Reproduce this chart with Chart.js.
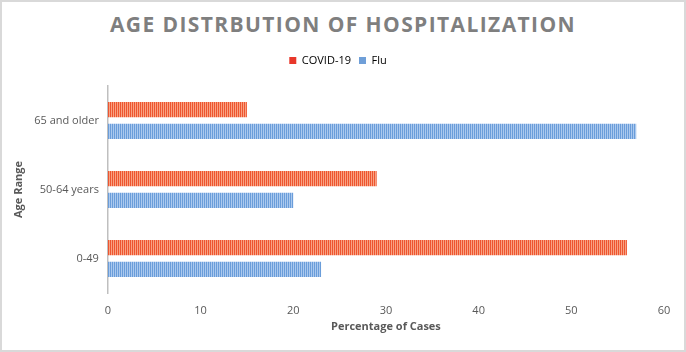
<!DOCTYPE html>
<html>
<head>
<meta charset="utf-8">
<script src="https://cdn.jsdelivr.net/npm/chart.js@4.4.0/dist/chart.umd.min.js"></script>
<style>
  html, body { margin: 0; padding: 0; background: #fff; }
  #wrap { position: relative; width: 686px; height: 352px; box-sizing: border-box; border: 2px solid #d9d9d9; overflow: hidden; }
  #title {
    position: absolute; left: 0; right: 0; top: 8px; text-align: center;
    font-family: "Open Sans", sans-serif; font-weight: 700; font-size: 21px;
    letter-spacing: 1.4px; color: #7f7f7f;
  }
  canvas { position: absolute; left: 0; top: 0; }
</style>
</head>
<body>
<div id="wrap">
  <div id="title">AGE DISTRBUTION OF HOSPITALIZATION</div>
  <canvas id="chart" width="682" height="348"></canvas>
</div>
<script>
// --- Datos ---
const categories = ['65 and older', '50-64 years', '0-49'];
const covidValues = [15, 29, 56];
const fluValues = [57, 20, 23];
const xTicks = [0, 10, 20, 30, 40, 50, 60];

// rayas verticales como en el original
function stripes(dark, light) {
  const c = document.createElement('canvas');
  c.width = 2; c.height = 1;
  const g = c.getContext('2d');
  g.fillStyle = dark; g.fillRect(0, 0, 1, 1);
  g.fillStyle = light; g.fillRect(1, 0, 1, 1);
  return g.createPattern(c, 'repeat');
}

// espacio extra bajo la leyenda
const legendGap = {
  id: 'legendGap',
  beforeInit(chart) {
    const fit = chart.legend.fit;
    chart.legend.fit = function () {
      fit.bind(chart.legend)();
      this.height += 10;
    };
  }
};

const ctx = document.getElementById('chart').getContext('2d');
const font = { family: '"Open Sans", sans-serif', size: 11 };

new Chart(ctx, {
  type: 'bar',
  data: {
    labels: categories,
    datasets: [
      {
        label: 'COVID-19',
        data: covidValues,
        backgroundColor: stripes('#ee5530', '#f8a282'),
        categoryPercentage: 0.63,
        barPercentage: 0.7
      },
      {
        label: 'Flu',
        data: fluValues,
        backgroundColor: stripes('#6a9dda', '#abc9ee'),
        categoryPercentage: 0.63,
        barPercentage: 0.7
      }
    ]
  },
  plugins: [legendGap],
  options: {
    indexAxis: 'y',
    responsive: false,
    animation: false,
    layout: { padding: { top: 45, left: 10, right: 20, bottom: 17 } },
    scales: {
      x: {
        min: 0, max: 60,
        afterBuildTicks: (axis) => { axis.ticks = xTicks.map(v => ({ value: v })); },
        afterFit: (axis) => { axis.height = 40; },
        grid: { display: false, drawTicks: false },
        border: { display: false },
        ticks: { color: '#595959', font, padding: 11 },
        title: { display: true, text: 'Percentage of Cases', color: '#595959', font: { ...font, weight: 'bold' }, padding: { top: 3, bottom: 0 } }
      },
      y: {
        grid: { display: false, drawTicks: false },
        border: { display: true, color: '#bfbfbf', width: 1.5 },
        ticks: { color: '#595959', font, padding: 9 },
        title: { display: true, text: 'Age Range', color: '#595959', font: { ...font, weight: 'bold' }, padding: { top: 0, bottom: 0 } }
      }
    },
    plugins: {
      legend: {
        labels: {
          boxWidth: 7, boxHeight: 7, color: '#595959', font,
          padding: 8,
          generateLabels: () => [
            { text: 'COVID-19', fillStyle: '#e8372a', strokeStyle: '#e8372a', lineWidth: 0, datasetIndex: 0 },
            { text: 'Flu', fillStyle: '#6f9fd8', strokeStyle: '#6f9fd8', lineWidth: 0, datasetIndex: 1 }
          ]
        }
      },
      tooltip: { enabled: false }
    }
  }
});
</script>
</body>
</html>
